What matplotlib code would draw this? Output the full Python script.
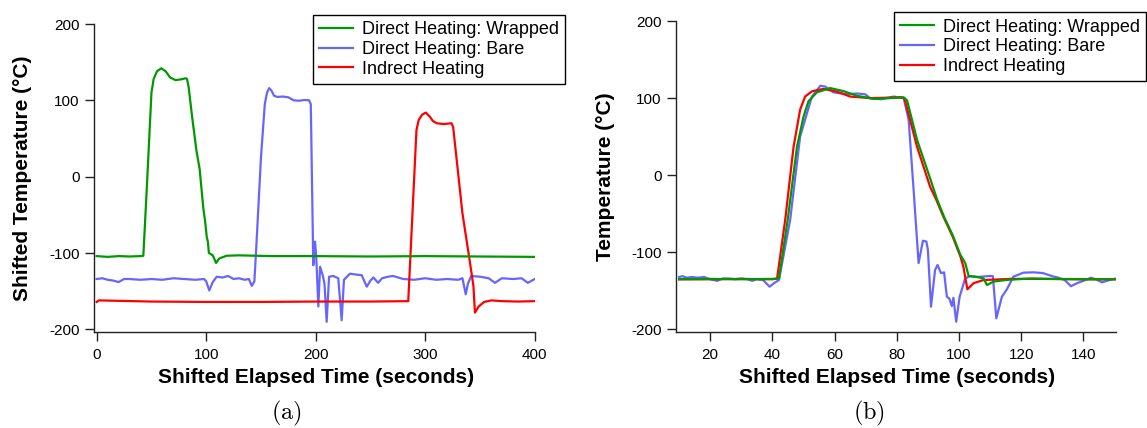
import matplotlib.pyplot as plt

plt.rcParams['font.family'] = ['Liberation Sans', 'DejaVu Sans']
plt.rcParams['mathtext.fontset'] = 'cm'
plt.rcParams['axes.unicode_minus'] = False

GREEN = '#009a00'
BLUE = '#6666ff'
RED = '#ff0000'
LW = 1.6

LABEL_WRAP = 'Direct Heating: Wrapped'
LABEL_BARE = 'Direct Heating: Bare'
LABEL_IND = 'Indrect Heating'

# ---- panel (a): shifted runs, offset in temperature ----
wrap_a_t = [0, 10, 20, 30, 40, 42.6, 46, 50, 52, 55, 59, 63, 67, 72, 77, 81.5, 82.5,
            84, 87, 91, 94, 97.5, 98.9, 100.5, 101.5, 102.5, 106, 109, 112, 118.7,
            130, 160, 200, 250, 300, 350, 400]
wrap_a_T = [-104, -105, -104, -104.5, -104, -103.5, -8, 110, 128, 138, 142, 138, 130,
            126.5, 127.5, 129, 128, 117, 80, 35, 10, -43, -57, -79, -85, -100, -103,
            -113, -107, -103.5, -103, -104, -104, -104.5, -104, -104.5, -105]

bare_a_t = [0, 5, 10, 15, 20, 25, 30, 40, 50, 60, 70, 80, 90, 98, 100, 102.8, 106,
            109.6, 115, 120, 125, 130, 135, 139, 141.6, 144, 146, 150, 153.5, 155.5,
            157.5, 159.5, 162, 165, 170, 175, 180, 185, 190, 194, 195.5, 197.8, 199.4,
            200.5, 202.4, 204, 206.4, 208, 210, 212.2, 216, 220.6, 223.7, 225.8, 231.3,
            236, 242, 246.6, 250, 252.6, 257, 260.6, 266, 270.5, 280, 290, 300, 310,
            320, 330, 334, 337, 339, 342, 350, 358, 363.7, 370, 380, 388, 393.7, 400]
bare_a_T = [-134, -133, -135, -136, -138, -134, -134, -135, -134, -135, -133, -134,
            -135, -134, -137, -149, -138, -131, -132, -130, -134, -133, -135, -134,
            -143, -137, -85, 25, 95, 110, 116, 113, 106, 104.5, 105, 104, 100, 99.5,
            100.5, 100, 95, -116, -85, -105, -170, -118, -129, -140, -190, -131, -130,
            -133, -188, -135, -127, -128, -129, -144, -136, -132, -139, -133, -131,
            -130, -134, -135, -133, -135, -134, -135, -133, -154, -140, -130, -131,
            -133, -139, -133, -134, -133, -139, -134]

ind_a_t = [0, 2, 50, 100, 150, 200, 250, 284.5, 292, 294, 297, 300.5, 304, 307,
           310.5, 317, 324, 325.5, 334, 340.5, 344, 345.4, 348.8, 353.8, 360.4, 370,
           385, 400]
ind_a_T = [-164, -162, -163.5, -164, -164, -163.5, -163.5, -163, 61, 74, 81, 84, 79,
           73, 70, 69, 70, 65, -48, -109, -143, -178, -170, -164, -162, -163, -163.5,
           -163]

# ---- panel (b): same runs on absolute temperature ----
wrap_b_t = [10, 20, 30, 40, 42.1, 44.9, 47.9, 50, 51.6, 54.3, 58.6, 62.9, 67.2, 72.5,
            78, 82.2, 83.3, 86.5, 90.7, 93, 95.3, 98, 100.4, 102, 103.1, 105.8, 107.9,
            109, 111.1, 115.4, 122.9, 130, 140, 150.5]
wrap_b_T = [-135, -134.5, -135, -134.5, -134, -58, 37, 76, 96, 107.5, 113, 109, 103,
            99, 100, 101, 97, 46, -4, -32, -55, -78, -103, -114, -130.7, -132, -134,
            -142.4, -138, -135.8, -134, -134.5, -135, -135]

bare_b_t = [10, 11, 12.5, 14, 16, 18, 20, 22.3, 24, 26, 28, 30, 32, 33.5, 35, 37,
            39.1, 40.5, 42.1, 45.7, 48.9, 52.7, 55.4, 57, 59.6, 63.9, 67.2, 69.8, 71.4,
            75, 79, 82.2, 83.8, 85.4, 87, 88.4, 89.5, 90, 91, 92.3, 93.1, 94.2, 95.2,
            96.1, 96.9, 97.7, 98.2, 99.1, 100.2, 102, 103.6, 106, 110, 110.9, 112,
            113.8, 115.4, 117.5, 120.7, 124, 127, 130, 132, 134, 136, 138, 140, 142.4,
            144, 146, 148.4, 150.5]
bare_b_T = [-132, -131, -133, -132, -133, -132, -135, -137, -134, -134, -135, -134,
            -135, -137, -135, -136, -144.6, -140, -136, -58, 50, 102, 116, 115, 107.5,
            105, 106, 105, 100, 98.5, 102, 100, 72, -19, -114, -85, -86, -97, -170.6,
            -123, -116.4, -127, -126, -157.6, -160, -169.7, -159, -190, -157.6,
            -133.8, -131, -132, -130.7, -131, -185.7, -157.6, -148, -131.6, -126.4,
            -126, -127, -131, -133, -136, -144, -140, -137, -133, -135, -139, -136,
            -134]

ind_b_t = [10, 20, 30, 40, 41.5, 44.1, 46.8, 48.9, 50.5, 52.7, 56.4, 60.7, 65, 71.4,
           81.6, 82.5, 86.5, 90.7, 92.7, 95, 98, 100.5, 101.4, 102.7, 104.7, 107.9,
           116.5, 125, 140, 150.5]
ind_b_T = [-135, -135, -134.5, -135, -134, -58, 37, 85, 102, 108.8, 112, 108.5, 102,
           100, 101, 99, 37, -15, -32, -54, -80, -106, -118.6, -148, -140, -136,
           -134.5, -134.5, -135, -135]

fig = plt.figure(figsize=(11.47, 4.28), dpi=100)
axA = fig.add_axes([0.0822, 0.2250, 0.3840, 0.7189])
axB = fig.add_axes([0.5894, 0.2250, 0.3836, 0.7259])


def style_axis(ax):
    for side in ('top', 'right'):
        ax.spines[side].set_visible(False)
    for side in ('left', 'bottom'):
        ax.spines[side].set_linewidth(1.0)
        ax.spines[side].set_color('#222222')
    ax.tick_params(direction='out', length=6.5, width=1.0, color='#222222',
                   labelsize=11)
    ax.tick_params(axis='x', pad=5.5)
    ax.tick_params(axis='y', pad=4)
    ax.set_ylim(-203, 200)
    ax.set_yticks([-200, -100, 0, 100, 200])


def add_legend(ax, anchor, lines):
    leg = ax.legend(lines, [LABEL_WRAP, LABEL_BARE, LABEL_IND], loc='upper right',
                    bbox_to_anchor=anchor, bbox_transform=fig.transFigure,
                    fontsize=13, frameon=True, fancybox=False, framealpha=1,
                    edgecolor='black', borderpad=0.35, labelspacing=0.15,
                    handlelength=1.85, handletextpad=0.5, borderaxespad=0)
    leg.get_frame().set_linewidth(1.0)


# (a)
lb, = axA.plot(bare_a_t, bare_a_T, color=BLUE, lw=LW)
lr, = axA.plot(ind_a_t, ind_a_T, color=RED, lw=LW)
lg, = axA.plot(wrap_a_t, wrap_a_T, color=GREEN, lw=LW)
style_axis(axA)
axA.set_xlim(-2.2, 400)
axA.set_xticks([0, 100, 200, 300, 400])
axA.set_xlabel('Shifted Elapsed Time (seconds)', fontsize=15, fontweight='bold')
axA.set_ylabel('Shifted Temperature (°C)', fontsize=15, fontweight='bold')
axA.xaxis.set_label_coords(0.503, -0.118)
axA.yaxis.set_label_coords(-0.141, 0.5)
add_legend(axA, (0.4926, 0.965), [lg, lb, lr])

# (b)
lb, = axB.plot(bare_b_t, bare_b_T, color=BLUE, lw=LW)
lr, = axB.plot(ind_b_t, ind_b_T, color=RED, lw=LW)
lg, = axB.plot(wrap_b_t, wrap_b_T, color=GREEN, lw=LW)
style_axis(axB)
axB.set_xlim(9, 150.5)
axB.set_xticks([20, 40, 60, 80, 100, 120, 140])
axB.set_xlabel('Shifted Elapsed Time (seconds)', fontsize=15, fontweight='bold')
axB.set_ylabel('Temperature (°C)', fontsize=15, fontweight='bold')
axB.xaxis.set_label_coords(0.502, -0.118)
axB.yaxis.set_label_coords(-0.138, 0.5)
add_legend(axB, (0.9991, 0.9713), [lg, lb, lr])

fig.text(0.250, 0.035, r'$\mathrm{(a)}$', fontsize=17.5, ha='center', va='center')
fig.text(0.7576, 0.035, r'$\mathrm{(b)}$', fontsize=17.5, ha='center', va='center')

fig.savefig('out.png', dpi=100)
